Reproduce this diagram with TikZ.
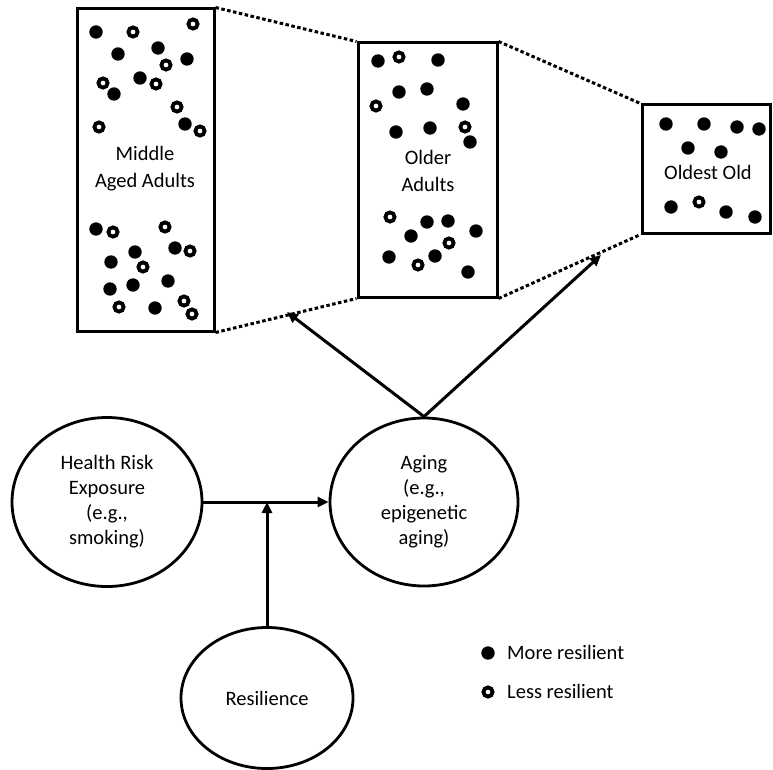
\documentclass[tikz,border=0pt]{standalone}
\usepackage{fontspec}
\setmainfont{Carlito}
\usetikzlibrary{shapes.geometric,arrows.meta}
\begin{document}
\begin{tikzpicture}[x=1pt,y=-1pt,
  boxst/.style={draw, line width=3pt, inner sep=0pt},
  ell/.style={draw, ellipse, line width=2.8pt, inner sep=0pt, align=center,
    font=\fontsize{20.5}{25}\selectfont},
  lbl/.style={align=center, inner sep=0pt, font=\fontsize{20.5}{27}\selectfont},
  dots/.style={line width=3pt, dash pattern=on 3.5pt off 2.5pt},
  arr/.style={line width=3pt, -{Triangle[length=11pt,width=10pt]}},
  full/.style={fill=black},
  ring/.style={draw=black, line width=3.8pt}
]
\useasboundingbox (0,0) rectangle (773,770);
% boxes
\node[boxst, minimum width=137pt, minimum height=322pt] (b1) at (145.5,170) {};
\node[boxst, minimum width=139pt, minimum height=254pt] (b2) at (427.5,170) {};
\node[boxst, minimum width=128pt, minimum height=128pt] (b3) at (706,169) {};
\node[lbl] (t1) at (145,169) {Middle\\Aged Adults};
\node[lbl] (t2) at (428,171) {Older\\Adults};
\node[lbl] (t3) at (708,172) {Oldest Old};
% dotted connectors
\draw[dots] (b1.north east) -- (b2.north west);
\draw[dots] (b1.south east) -- (b2.south west);
\draw[dots] (b2.north east) -- (b3.north west);
\draw[dots] (b2.south east) -- (b3.south west);
% filled dots
\foreach \px/\py in {96/32,158/48,118/54,187/59,140/78,114/94,185/124,
  96/229,135/252,175/248,111/262,110/289,133/285,168/281,155/308,
  378/61,438/60,399/92,427/89,463/104,396/132,430/128,470/142,
  427/222,448/221,411/236,476/231,389/257,435/256,468/272,
  666/124,704/124,737/127,759/129,688/148,721/152,671/207,726/212,755/217}
  \fill[full] (\px,\py) circle (6.7);
% open dots
\foreach \px/\py in {133/32,193/24,166/65,103/83,156/84,177/107,99/127,200/131,
  113/232,165/227,190/251,143/267,119/307,184/301,192/314,
  399/57,376/106,465/127,390/217,449/243,418/265,
  699/202}
  \draw[ring] (\px,\py) circle (4.6);
% ellipses
\node[ell, minimum width=190pt, minimum height=169pt] (hre) at (107,502) {Health Risk\\Exposure\\(e.g.,\\smoking)};
\node[ell, minimum width=188pt, minimum height=168pt] (age) at (424,502) {Aging\\(e.g.,\\epigenetic\\aging)};
\node[ell, minimum width=172pt, minimum height=141pt] (res) at (267,698) {Resilience};
% arrows
\draw[arr] (hre.east) -- (age.west);
\coordinate (m) at (res.north |- hre.east);
\draw[arr] (res.north) -- (m);
\coordinate (e1) at (287,312);
\coordinate (e2) at (601,255);
\draw[arr] (age.north) -- (e1);
\draw[arr] (age.north) -- (e2);
% legend
\fill[full] (488,653) circle (6.7);
\draw[ring] (488,692) circle (4.6);
\node[anchor=west, inner sep=0pt, font=\fontsize{20.5}{25}\selectfont] (l1) at (507,652) {More resilient};
\node[anchor=west, inner sep=0pt, font=\fontsize{20.5}{25}\selectfont] (l2) at (507,691) {Less resilient};
\end{tikzpicture}
\end{document}
